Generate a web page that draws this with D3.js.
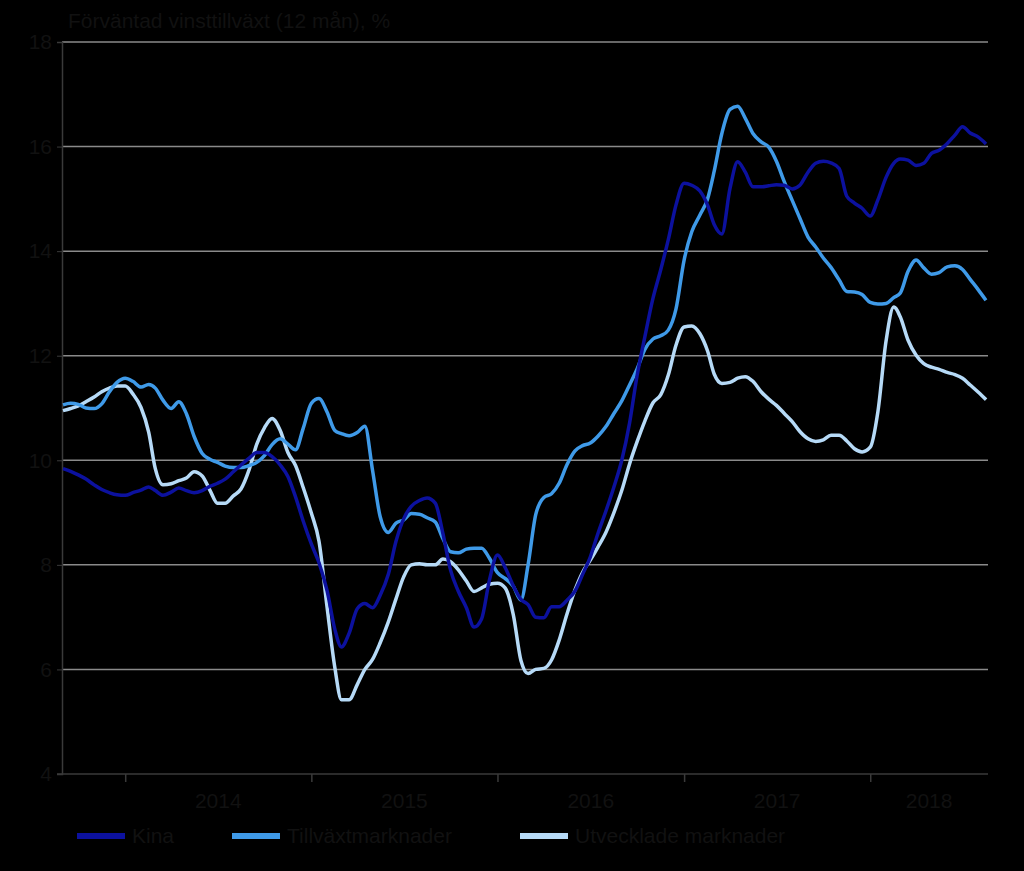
<!DOCTYPE html>
<html>
<head>
<meta charset="utf-8">
<script src="https://cdn.jsdelivr.net/npm/d3@7"></script>
<style>
  html, body { margin: 0; padding: 0; background: #000; }
  svg { display: block; }
  text { font-family: "Liberation Sans", Arial, sans-serif; }
</style>
</head>
<body>
<svg id="chart" width="1024" height="871"></svg>
<script>
// ---- data (semi-monthly observations, Sep 2013 – Aug 2018) ----
const startYear = 2013, startMonth = 8; // September (0-based)
const nPoints = 120;
const dates = [];
for (let i = 0; i < nPoints; i++) {
  const m = startMonth + Math.floor(i / 2);
  dates.push(new Date(startYear, m, i % 2 === 0 ? 1 : 16));
}

const kina = [
  9.84, 9.79, 9.72, 9.64, 9.53, 9.44, 9.38, 9.34, 9.33, 9.38,
  9.43, 9.49, 9.42, 9.33, 9.39, 9.47, 9.42, 9.38, 9.42, 9.50,
  9.56, 9.64, 9.78, 9.91, 10.04, 10.15, 10.15, 10.07, 9.91, 9.69,
  9.30, 8.84, 8.40, 8.04, 7.50, 6.77, 6.43, 6.69, 7.16, 7.26,
  7.18, 7.42, 7.82, 8.45, 8.88, 9.12, 9.23, 9.28, 9.18, 8.60,
  7.90, 7.50, 7.18, 6.81, 6.97, 7.70, 8.19, 7.95, 7.60, 7.34,
  7.24, 7.00, 6.99, 7.20, 7.20, 7.32, 7.50, 7.82, 8.15, 8.60,
  9.04, 9.48, 10.01, 10.71, 11.63, 12.36, 13.10, 13.64, 14.22, 14.88,
  15.30, 15.26, 15.15, 14.88, 14.51, 14.33, 15.20, 15.71, 15.51, 15.23,
  15.23, 15.25, 15.27, 15.26, 15.19, 15.26, 15.51, 15.68, 15.72, 15.69,
  15.58, 15.05, 14.92, 14.82, 14.67, 14.98, 15.41, 15.68, 15.76, 15.74,
  15.64, 15.68, 15.87, 15.93, 16.06, 16.22, 16.38, 16.26, 16.18, 16.05
];

const tillvaxt = [
  11.06, 11.09, 11.07, 11.00, 10.99, 11.08, 11.31, 11.49, 11.57, 11.51,
  11.40, 11.45, 11.38, 11.15, 10.99, 11.12, 10.89, 10.46, 10.13, 10.02,
  9.96, 9.89, 9.86, 9.86, 9.90, 9.96, 10.09, 10.30, 10.41, 10.31,
  10.20, 10.61, 11.09, 11.18, 10.92, 10.57, 10.51, 10.47, 10.53, 10.65,
  9.81, 8.92, 8.62, 8.80, 8.86, 8.98, 8.97, 8.90, 8.82, 8.50,
  8.25, 8.23, 8.30, 8.32, 8.32, 8.13, 7.85, 7.74, 7.59, 7.33,
  8.00, 8.96, 9.29, 9.36, 9.56, 9.91, 10.18, 10.28, 10.33, 10.46,
  10.65, 10.89, 11.14, 11.44, 11.75, 12.12, 12.32, 12.38, 12.49, 12.89,
  13.83, 14.37, 14.69, 15.00, 15.53, 16.25, 16.71, 16.77, 16.54, 16.25,
  16.09, 15.99, 15.72, 15.34, 14.97, 14.63, 14.27, 14.08, 13.87, 13.69,
  13.45, 13.23, 13.22, 13.17, 13.02, 12.99, 13.00, 13.11, 13.20, 13.61,
  13.83, 13.68, 13.56, 13.59, 13.70, 13.72, 13.65, 13.46, 13.26, 13.06
];

const utvecklade = [
  10.95, 10.99, 11.04, 11.12, 11.21, 11.31, 11.38, 11.42, 11.42, 11.27,
  11.01, 10.54, 9.84, 9.53, 9.55, 9.61, 9.66, 9.78, 9.70, 9.43,
  9.18, 9.18, 9.32, 9.45, 9.82, 10.31, 10.62, 10.80, 10.57, 10.15,
  9.90, 9.48, 8.99, 8.45, 7.18, 6.04, 5.42, 5.42, 5.71, 6.00,
  6.19, 6.51, 6.91, 7.35, 7.77, 8.00, 8.02, 8.00, 8.00, 8.11,
  8.06, 7.91, 7.69, 7.49, 7.56, 7.63, 7.65, 7.56, 7.05, 6.17,
  5.92, 6.00, 6.02, 6.18, 6.56, 7.05, 7.52, 7.86, 8.09, 8.34,
  8.63, 8.99, 9.43, 9.93, 10.36, 10.75, 11.10, 11.25, 11.63, 12.20,
  12.55, 12.57, 12.42, 12.09, 11.65, 11.47, 11.49, 11.57, 11.60, 11.51,
  11.31, 11.17, 11.05, 10.90, 10.74, 10.55, 10.41, 10.36, 10.39, 10.48,
  10.48, 10.37, 10.22, 10.16, 10.25, 10.93, 12.28, 12.93, 12.74, 12.30,
  12.01, 11.85, 11.78, 11.74, 11.68, 11.64, 11.57, 11.44, 11.30, 11.16
];

const seriesNames = ["Kina", "Tillväxtmarknader", "Utvecklade marknader"];
const seriesColors = ["#0c119e", "#3f9ae8", "#b6daf7"];
const yTicks = [4, 6, 8, 10, 12, 14, 16, 18];
const yearLabels = ["2014", "2015", "2016", "2017", "2018"];
const title = "Förväntad vinsttillväxt (12 mån), %";

// ---- layout ----
const svg = d3.select("#chart");
svg.append("rect").attr("width", 1024).attr("height", 871).attr("fill", "#000");

const x = d3.scaleTime()
  .domain([dates[0], dates[dates.length - 1]])
  .range([63, 986]);
const y = d3.scaleLinear().domain([4, 18]).range([774, 42]);
const plotLeft = 62, plotRight = 988;
const textColor = "#111111";
const fontSize = 21;

// gridlines
svg.append("g").selectAll("line")
  .data(yTicks.filter(t => t > 4))
  .join("line")
  .attr("x1", plotLeft).attr("x2", plotRight)
  .attr("y1", d => y(d)).attr("y2", d => y(d))
  .attr("stroke", "#8a8a8a").attr("stroke-width", 1.5);

// y axis
const yAxis = d3.axisLeft(y).tickValues(yTicks).tickSize(5).tickPadding(5);
const gy = svg.append("g").attr("transform", `translate(${plotLeft},0)`).call(yAxis);
gy.select(".domain").attr("stroke", "#3a3a3a").attr("stroke-width", 1.5);
gy.selectAll(".tick line").attr("stroke", "#3a3a3a");
gy.selectAll(".tick text").attr("fill", textColor).attr("font-size", fontSize)
  .attr("font-family", "Liberation Sans, Arial, sans-serif");

// x axis
const yearStarts = yearLabels.map(s => new Date(+s, 0, 1));
const xAxis = d3.axisBottom(x).tickValues(yearStarts).tickSize(8).tickFormat("");
const gx = svg.append("g").attr("transform", `translate(0,${y(4)})`).call(xAxis);
gx.select(".domain").remove();
gx.append("line").attr("x1", plotLeft - 5).attr("x2", plotRight)
  .attr("stroke", "#3a3a3a").attr("stroke-width", 1.5);
gx.selectAll(".tick line").attr("stroke", "#3a3a3a").attr("stroke-width", 1.5);

// year labels centred in each year segment
const endDate = x.invert(plotRight);
svg.append("g").selectAll("text")
  .data(yearLabels)
  .join("text")
  .attr("x", d => {
    const a = new Date(+d, 0, 1);
    const b = new Date(+d + 1, 0, 1) < endDate ? new Date(+d + 1, 0, 1) : endDate;
    return (x(a) + x(b)) / 2;
  })
  .attr("y", 808)
  .attr("text-anchor", "middle")
  .attr("font-size", fontSize)
  .attr("fill", textColor)
  .text(d => d);

// title
svg.append("text").attr("x", 68).attr("y", 28)
  .attr("font-size", fontSize).attr("fill", textColor).text(title);

// lines
const allSeries = [kina, tillvaxt, utvecklade];
const line = d3.line()
  .x((d, i) => x(dates[i]))
  .y(d => y(d))
  .curve(d3.curveMonotoneX);

[2, 1, 0].forEach(k => {
  svg.append("path")
    .datum(allSeries[k])
    .attr("fill", "none")
    .attr("stroke", seriesColors[k])
    .attr("stroke-width", 3.5)
    .attr("stroke-linejoin", "round")
    .attr("d", line);
});

// legend
const legendX = [77, 232, 520];
const lg = svg.append("g");
seriesNames.forEach((name, i) => {
  lg.append("line")
    .attr("x1", legendX[i]).attr("x2", legendX[i] + 48)
    .attr("y1", 836).attr("y2", 836)
    .attr("stroke", seriesColors[i]).attr("stroke-width", 6);
  lg.append("text")
    .attr("x", legendX[i] + 55).attr("y", 843)
    .attr("font-size", fontSize).attr("fill", textColor).text(name);
});
</script>
</body>
</html>
